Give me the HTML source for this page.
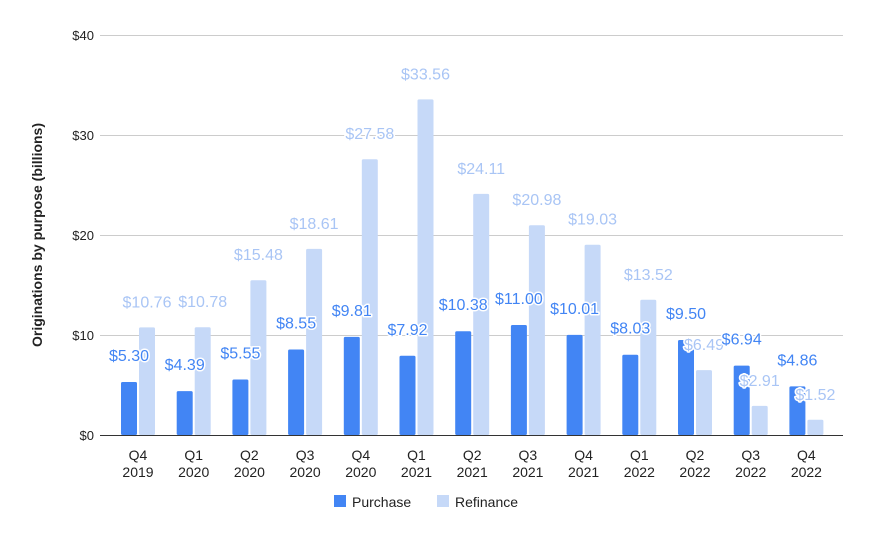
<!DOCTYPE html>
<html><head><meta charset="utf-8"><style>body{margin:0;background:#fff}svg{display:block}text{font-family:"Liberation Sans",sans-serif}</style></head>
<body>
<svg width="870" height="539" xmlns="http://www.w3.org/2000/svg">
<g stroke="#cccccc" stroke-width="1">
<line x1="100" y1="35.5" x2="843" y2="35.5"/><line x1="100" y1="135.5" x2="843" y2="135.5"/>
<line x1="100" y1="235.5" x2="843" y2="235.5"/><line x1="100" y1="335.5" x2="843" y2="335.5"/>
</g>
<g font-size="13" fill="#222" text-anchor="end">
<text x="94" y="40">$40</text><text x="94" y="140">$30</text><text x="94" y="240">$20</text><text x="94" y="340">$10</text><text x="94" y="440">$0</text>
</g>
<text transform="translate(42,235) rotate(-90)" text-anchor="middle" font-size="14" font-weight="bold" fill="#222">Originations by purpose (billions)</text>
<g fill="#4285f4">
<rect x="121" y="382" width="16" height="53" rx="1.5"/>
<rect x="176.7" y="391.1" width="16" height="43.9" rx="1.5"/>
<rect x="232.4" y="379.5" width="16" height="55.5" rx="1.5"/>
<rect x="288.1" y="349.5" width="16" height="85.5" rx="1.5"/>
<rect x="343.8" y="336.9" width="16" height="98.1" rx="1.5"/>
<rect x="399.5" y="355.8" width="16" height="79.2" rx="1.5"/>
<rect x="455.2" y="331.2" width="16" height="103.8" rx="1.5"/>
<rect x="510.9" y="325" width="16" height="110" rx="1.5"/>
<rect x="566.6" y="334.9" width="16" height="100.1" rx="1.5"/>
<rect x="622.3" y="354.7" width="16" height="80.3" rx="1.5"/>
<rect x="678" y="340" width="16" height="95" rx="1.5"/>
<rect x="733.7" y="365.6" width="16" height="69.4" rx="1.5"/>
<rect x="789.4" y="386.4" width="16" height="48.6" rx="1.5"/>
</g>
<g fill="#c6d9f8">
<rect x="139" y="327.4" width="16" height="107.6" rx="1.5"/>
<rect x="194.7" y="327.2" width="16" height="107.8" rx="1.5"/>
<rect x="250.4" y="280.2" width="16" height="154.8" rx="1.5"/>
<rect x="306.1" y="248.9" width="16" height="186.1" rx="1.5"/>
<rect x="361.8" y="159.2" width="16" height="275.8" rx="1.5"/>
<rect x="417.5" y="99.4" width="16" height="335.6" rx="1.5"/>
<rect x="473.2" y="193.9" width="16" height="241.1" rx="1.5"/>
<rect x="528.9" y="225.2" width="16" height="209.8" rx="1.5"/>
<rect x="584.6" y="244.7" width="16" height="190.3" rx="1.5"/>
<rect x="640.3" y="299.8" width="16" height="135.2" rx="1.5"/>
<rect x="696" y="370.1" width="16" height="64.9" rx="1.5"/>
<rect x="751.7" y="405.9" width="16" height="29.1" rx="1.5"/>
<rect x="807.4" y="419.8" width="16" height="15.2" rx="1.5"/>
</g>
<line x1="100" y1="435.5" x2="843" y2="435.5" stroke="#333" stroke-width="1"/>
<g font-size="14" fill="#222" text-anchor="middle">
<text x="138" y="460">Q4</text><text x="138" y="477">2019</text>
<text x="193.7" y="460">Q1</text><text x="193.7" y="477">2020</text>
<text x="249.4" y="460">Q2</text><text x="249.4" y="477">2020</text>
<text x="305.1" y="460">Q3</text><text x="305.1" y="477">2020</text>
<text x="360.8" y="460">Q4</text><text x="360.8" y="477">2020</text>
<text x="416.5" y="460">Q1</text><text x="416.5" y="477">2021</text>
<text x="472.2" y="460">Q2</text><text x="472.2" y="477">2021</text>
<text x="527.9" y="460">Q3</text><text x="527.9" y="477">2021</text>
<text x="583.6" y="460">Q4</text><text x="583.6" y="477">2021</text>
<text x="639.3" y="460">Q1</text><text x="639.3" y="477">2022</text>
<text x="695" y="460">Q2</text><text x="695" y="477">2022</text>
<text x="750.7" y="460">Q3</text><text x="750.7" y="477">2022</text>
<text x="806.4" y="460">Q4</text><text x="806.4" y="477">2022</text>
</g>
<g font-size="16" text-anchor="middle" stroke="#fff" stroke-width="3" paint-order="stroke" stroke-linejoin="round" fill="#a9c5f5">
<text x="147" y="307.4">$10.76</text>
<text x="202.7" y="307.2">$10.78</text>
<text x="258.4" y="260.2">$15.48</text>
<text x="314.1" y="228.9">$18.61</text>
<text x="369.8" y="139.2">$27.58</text>
<text x="425.5" y="79.4">$33.56</text>
<text x="481.2" y="173.9">$24.11</text>
<text x="536.9" y="205.2">$20.98</text>
<text x="592.6" y="224.7">$19.03</text>
<text x="648.3" y="279.8">$13.52</text>
<text x="704" y="350.1">$6.49</text>
<text x="759.7" y="385.9">$2.91</text>
<text x="815.4" y="399.8">$1.52</text>
</g>
<g font-size="16" text-anchor="middle" stroke="#fff" stroke-width="3" paint-order="stroke" stroke-linejoin="round" fill="#4285f4">
<text x="129" y="361">$5.30</text>
<text x="184.7" y="370.1">$4.39</text>
<text x="240.4" y="358.5">$5.55</text>
<text x="296.1" y="328.5">$8.55</text>
<text x="351.8" y="315.9">$9.81</text>
<text x="407.5" y="334.8">$7.92</text>
<text x="463.2" y="310.2">$10.38</text>
<text x="518.9" y="304">$11.00</text>
<text x="574.6" y="313.9">$10.01</text>
<text x="630.3" y="333.7">$8.03</text>
<text x="686" y="319">$9.50</text>
<text x="741.7" y="344.6">$6.94</text>
<text x="797.4" y="365.4">$4.86</text>
</g>
<rect x="334" y="495" width="12" height="12" fill="#4285f4"/>
<text x="352" y="507" font-size="14" fill="#222">Purchase</text>
<rect x="437" y="495" width="12" height="12" fill="#c6d9f8"/>
<text x="455" y="507" font-size="14" fill="#222">Refinance</text>
</svg>
</body></html>
